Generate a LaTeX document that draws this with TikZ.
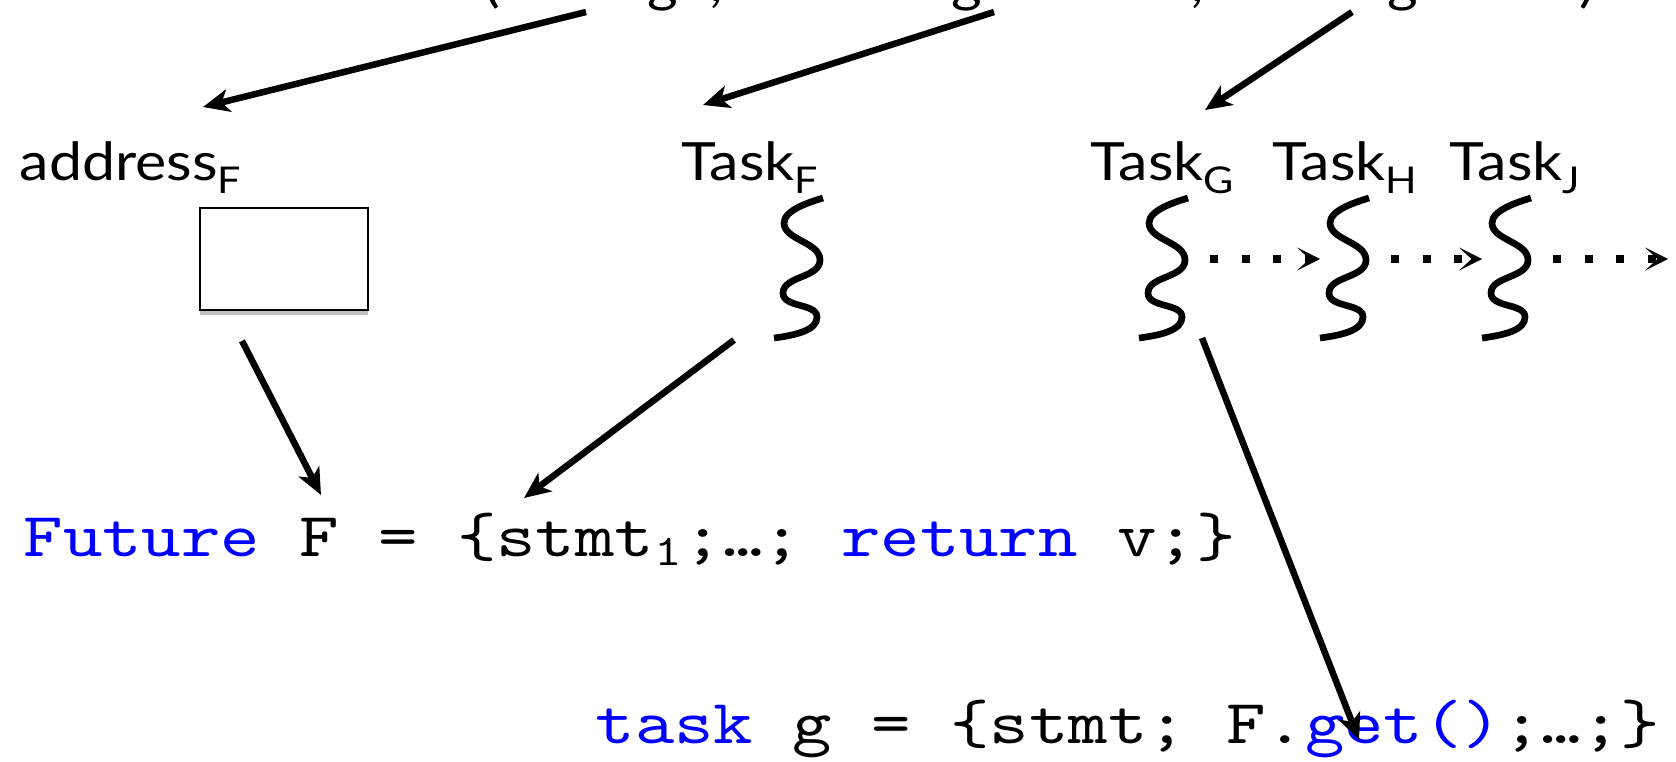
\documentclass[tikz,border=0pt]{standalone}
\usepackage{fontspec}
\setmainfont[FakeStretch=1.12]{Lato}
\setmonofont[FakeStretch=1.2]{lmmono10-regular.otf}
\usetikzlibrary{arrows.meta,calc,shadows}
\definecolor{kwblue}{RGB}{0,0,255}

\newcommand{\lsub}[1]{\raisebox{-0.5ex}{\fontsize{10.5}{11}\selectfont #1}}
\newcommand{\kw}[1]{\textcolor{kwblue}{#1}}

\begin{document}
\begin{tikzpicture}[x=0.1mm, y=-0.1mm,
  tname/.style={font=\fontsize{15}{17}\selectfont, inner sep=0pt, anchor=base west},
  frag/.style={font=\fontsize{15}{17}\selectfont, inner sep=0pt, anchor=base},
  code/.style={font=\ttfamily\fontsize{17.8}{20}\selectfont, inner sep=0pt, anchor=base west},
  link/.style={line width=1.85pt, -{Stealth[length=7.5pt,width=6.5pt,inset=2pt]}},
  chain/.style={line width=2.3pt, dash pattern=on 2.3pt off 6.7pt,
    -{Stealth[length=6.5pt,width=6.5pt,inset=3.5pt]}},
  slot/.style={draw, line width=0.5pt, fill=white, minimum width=16.8mm,
    minimum height=10.2mm, drop shadow={shadow xshift=0pt, shadow yshift=-1.5pt,
    fill=black!45, opacity=0.55}},
  thread/.pic={
    \draw[line width=1.9pt] (21,-70) .. controls (8,-66) and (-18,-58) .. (-18,-45)
      .. controls (-18,-28) and (18,-26) .. (18,-8)
      .. controls (18,10) and (-19,8) .. (-19,25)
      .. controls (-19,40) and (15,35) .. (15,49)
      .. controls (15,62) and (-5,67) .. (-28,70);
  }]
\useasboundingbox (0,0) rectangle (1676,761);

% call line at the top, only its lower edge shows
\node[frag] (f1) at (492,1) {(};
\node[frag] (f2) at (663,1) {g};
\node[frag] (f3) at (716,1) {,};
\node[frag] (f4) at (967,1) {g};
\node[frag] (f5) at (1197,1) {,};
\node[frag] (f6) at (1403,1) {g};
\node[frag] (f7) at (1587,1) {)};
\coordinate (src1) at (586,12);
\coordinate (src2) at (994,12);
\coordinate (src3) at (1352,12);

% names
\node[tname] (lAddr) at (19,180) {address\lsub{F}};
\node[tname] (lF) at (681,180) {Task\lsub{F}};
\node[tname] (lG) at (1090,180) {Task\lsub{G}};
\node[tname] (lH) at (1272,180) {Task\lsub{H}};
\node[tname] (lJ) at (1449,180) {Task\lsub{J}};

% storage slot and threads
\node[slot] (addrF) at (284,259) {};
\coordinate (thF) at (802,268);
\coordinate (thG) at (1167,268);
\coordinate (thH) at (1348,268);
\coordinate (thJ) at (1510,268);
\foreach \t in {thF,thG,thH,thJ}
  \pic at (\t) {thread};
\coordinate (more) at (1668,259);

% code
\node[code] (futLine) at (23,556) {\kw{Future} F = \{stmt\textsubscript{1};…; \kw{return} v;\}};
\node[code] (taskLine) at (595,743) {\kw{task} g = \{stmt; F.\kw{get()};…;\}};

% arrows
\draw[link] (src1) -- ($(lAddr.base west)+(184,-73)$);
\draw[link] (src2) -- ($(lF.base west)+(22,-75)$);
\draw[link] (src3) -- ($(lG.base west)+(115,-70)$);
\draw[link] ($(addrF.south)+(-42,30)$) -- ($(futLine.base west)+(298,-61)$);
\draw[link] ($(thF)+(-68,72)$) -- ($(futLine.base west)+(501,-58)$);
\draw[link] ($(thG)+(35,70)$) -- ($(taskLine.base west)+(764,-3)$);
\draw[chain] ($(thG)+(43,-9)$) -- ($(thH)+(-28,-9)$);
\draw[chain] ($(thH)+(43,-9)$) -- ($(thJ)+(-28,-9)$);
\draw[chain] ($(thJ)+(43,-9)$) -- (more);
\end{tikzpicture}
\end{document}
